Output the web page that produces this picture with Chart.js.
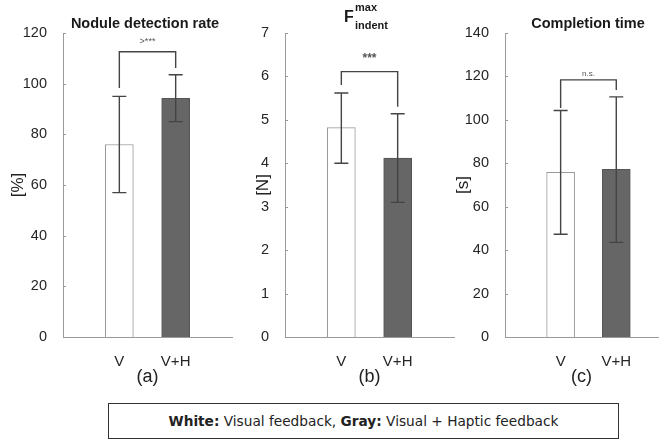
<!DOCTYPE html>
<html>
<head>
<meta charset="utf-8">
<script src="https://cdn.jsdelivr.net/npm/chart.js@4.4.1/dist/chart.umd.min.js"></script>
<style>
  html, body { margin: 0; padding: 0; background: #fff; }
  body { width: 666px; height: 439px; position: relative; overflow: hidden; font-family: "Liberation Sans", Arial, sans-serif; }
  .panel { position: absolute; top: 0; height: 395px; }
  .title { position: absolute; font-weight: bold; color: #1a1a1a; white-space: nowrap; }
  .note { position: absolute; left: 108px; top: 403px; width: 509px; height: 34px; border: 1.5px solid #333; box-sizing: content-box;
          font-family: "DejaVu Sans", Verdana, sans-serif; font-size: 13.7px; color: #222; text-align: center; line-height: 34px; }
</style>
</head>
<body>
<div class="panel" style="left:0px;width:240px"><canvas id="chartA"></canvas></div>
<div class="panel" style="left:245px;width:217px"><canvas id="chartB"></canvas></div>
<div class="panel" style="left:445px;width:221px"><canvas id="chartC"></canvas></div>

<div class="title" style="left:145px;top:15px;font-size:14.5px;transform:translateX(-50%)">Nodule detection rate</div>
<div class="title" style="left:344px;top:8px;font-size:16px;line-height:18px">F</div>
<div class="title" style="left:355px;top:1px;font-size:11px;line-height:13px">max</div>
<div class="title" style="left:355px;top:19px;font-size:11px;line-height:13px">indent</div>
<div class="title" style="left:588px;top:15px;font-size:14.5px;transform:translateX(-50%)">Completion time</div>

<div class="note"><b>White:</b> Visual feedback, <b>Gray:</b> Visual + Haptic feedback</div>

<script>
// categories on the x axis
var categories = ['V', 'V+H'];

// (a) nodule detection rate [%]
var detectionMean = [76, 94.2];
var detectionLow = [57, 85];
var detectionHigh = [95, 103.5];
var detectionBracket = [98.3, 112.6, 106.2]; // left leg end, top, right leg end
var detectionSig = ['>***', 116.5];

// (b) max indentation force [N]
var forceMean = [4.82, 4.12];
var forceLow = [4.0, 3.1];
var forceHigh = [5.62, 5.14];
var forceBracket = [5.8, 6.11, 5.3];
var forceSig = ['***', 6.42];

// (c) completion time [s]
var timeMean = [75.8, 77.2];
var timeLow = [47.3, 43.6];
var timeHigh = [104.3, 110.6];
var timeBracket = [105.5, 118.4, 113.8];
var timeSig = ['n.s.', 121.3];

var ink = '#444';

// error bars, significance bracket and inward ticks
var extrasPlugin = {
  id: 'extras',
  afterDatasetsDraw: function (chart, args, opts) {
    var ctx = chart.ctx;
    var x = chart.scales.x, y = chart.scales.y;
    ctx.save();
    ctx.strokeStyle = ink;
    ctx.lineWidth = 1.4;
    for (var i = 0; i < categories.length; i++) {
      var px = x.getPixelForValue(i + 1);
      var lo = y.getPixelForValue(opts.low[i]);
      var hi = y.getPixelForValue(opts.high[i]);
      ctx.beginPath();
      ctx.moveTo(px, lo); ctx.lineTo(px, hi);
      ctx.moveTo(px - 7, lo); ctx.lineTo(px + 7, lo);
      ctx.moveTo(px - 7, hi); ctx.lineTo(px + 7, hi);
      ctx.stroke();
    }
    // bracket
    var x1 = x.getPixelForValue(1), x2 = x.getPixelForValue(2);
    ctx.beginPath();
    ctx.moveTo(x1, y.getPixelForValue(opts.bracket[0]));
    ctx.lineTo(x1, y.getPixelForValue(opts.bracket[1]));
    ctx.lineTo(x2, y.getPixelForValue(opts.bracket[1]));
    ctx.lineTo(x2, y.getPixelForValue(opts.bracket[2]));
    ctx.stroke();
    ctx.fillStyle = '#555';
    ctx.font = opts.sigFont;
    ctx.textAlign = 'center';
    ctx.textBaseline = 'middle';
    ctx.fillText(opts.sig[0], (x1 + x2) / 2, y.getPixelForValue(opts.sig[1]));
    // small inward ticks like matlab
    ctx.strokeStyle = '#999';
    ctx.lineWidth = 1;
    ctx.beginPath();
    y.ticks.forEach(function (t) {
      var py = Math.round(y.getPixelForValue(t.value)) + 0.5;
      ctx.moveTo(x.left, py); ctx.lineTo(x.left + 3, py);
    });
    ctx.stroke();
    ctx.restore();
  }
};

function makePanel(id, means, low, high, bracket, sig, sigFont, yMax, yStep, yTitle, xMax, yWidth, label) {
  var points = means.map(function (m, i) { return { x: i + 1, y: m }; });
  return new Chart(document.getElementById(id), {
    type: 'bar',
    data: {
      datasets: [{
        data: points,
        backgroundColor: ['#ffffff', '#666666'],
        borderColor: ['#9a9a9a', '#555555'],
        borderWidth: 1,
        barThickness: 28
      }]
    },
    options: {
      responsive: true,
      maintainAspectRatio: false,
      animation: false,
      layout: { padding: { top: 33, right: 8, left: 0, bottom: 0 } },
      plugins: {
        legend: { display: false },
        tooltip: { enabled: false },
        extras: { low: low, high: high, bracket: bracket, sig: sig, sigFont: sigFont }
      },
      scales: {
        x: {
          type: 'linear',
          min: 0,
          max: xMax,
          offset: false,
          afterBuildTicks: function (s) { s.ticks = [{ value: 1 }, { value: 2 }]; },
          afterFit: function (s) { s.height = 58; },
          grid: { display: false },
          border: { display: true, color: '#9a9a9a', width: 1 },
          ticks: {
            padding: 8,
            color: '#262626',
            font: { family: 'Liberation Sans', size: 15 },
            callback: function (v) { return categories[v - 1]; }
          },
          title: { display: true, text: label, color: '#222', font: { family: 'Liberation Sans', size: 18 }, padding: 7 }
        },
        y: {
          min: 0,
          max: yMax,
          afterFit: function (s) { s.width = yWidth; },
          grid: { display: false },
          border: { display: true, color: '#9a9a9a', width: 1 },
          ticks: { stepSize: yStep, padding: 8, color: '#262626', font: { family: 'Liberation Sans', size: 14.5 } },
          title: { display: true, text: yTitle, color: '#222', font: { family: 'Liberation Sans', size: 17 }, padding: 8 }
        }
      }
    },
    plugins: [extrasPlugin]
  });
}

makePanel('chartA', detectionMean, detectionLow, detectionHigh, detectionBracket, detectionSig, '9px Liberation Sans', 120, 20, '[%]', 3, 63, '(a)');
makePanel('chartB', forceMean, forceLow, forceHigh, forceBracket, forceSig, 'bold 12px Liberation Sans', 7, 1, '[N]', 3, 40, '(b)');
makePanel('chartC', timeMean, timeLow, timeHigh, timeBracket, timeSig, '8px Liberation Sans', 140, 20, '[s]', 2.75, 60, '(c)');
</script>
</body>
</html>
